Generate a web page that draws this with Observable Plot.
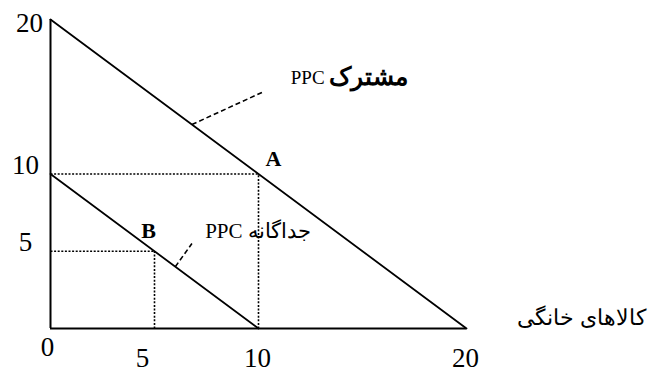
<!DOCTYPE html>
<html>
<head>
<meta charset="utf-8">
<script src="https://cdn.jsdelivr.net/npm/d3@7"></script>
<script src="https://cdn.jsdelivr.net/npm/@observablehq/plot@0.6"></script>
<style>
  html, body { margin: 0; padding: 0; background: #fff; }
  svg { display: block; }
</style>
</head>
<body>
<div id="chart"></div>
<script>
// ---- data ----
const jointX = [0, 20];          // joint PPC endpoints (x)
const jointY = [20, 0];          // joint PPC endpoints (y)
const sepX = [0, 10];            // separate PPC endpoints (x)
const sepY = [10, 0];            // separate PPC endpoints (y)
const pointNames = ["A", "B"];
const pointX = [10, 5];
const pointY = [10, 5];
const yTickValues = [20, 10, 5];
const xTickValues = [0, 5, 10, 20];
const jointLabel = ["PPC", "مشترک"];
const sepLabel = "PPC جداگانه";
const xTitle = "کالاهای خانگی";
// leader lines: [x on curve, y on curve, x end, y end]
const jointLeader = [6.8, 13.2, 10.2, 15.3];
const sepLeader = [6.0, 4.0, 6.8, 5.5];

const joint = jointX.map((x, i) => ({x, y: jointY[i]}));
const sep = sepX.map((x, i) => ({x, y: sepY[i]}));
const points = pointNames.map((n, i) => ({n, x: pointX[i], y: pointY[i]}));
const F = "Liberation Serif, Times New Roman, DejaVu Serif, serif";

const chart = Plot.plot({
  width: 652,
  height: 372,
  style: {background: "#fff", fontFamily: F},
  x: {domain: [0, 20], range: [50, 466]},
  y: {domain: [0, 20], range: [328, 19]},
  axis: null,
  marks: [
    // dotted guides
    Plot.link(points, {x1: 0, y1: "y", x2: "x", y2: "y", stroke: "#000", strokeWidth: 1.6, strokeDasharray: "2,1.6"}),
    Plot.link(points, {x1: "x", y1: 0, x2: "x", y2: "y", stroke: "#000", strokeWidth: 1.6, strokeDasharray: "2,1.6"}),
    // axes
    Plot.ruleX([0], {y1: 0, y2: 20, stroke: "#000", strokeWidth: 2}),
    Plot.ruleY([0], {x1: 0, x2: 20, stroke: "#000", strokeWidth: 2}),
    // PPC lines
    Plot.line(joint, {x: "x", y: "y", stroke: "#000", strokeWidth: 1.8}),
    Plot.line(sep, {x: "x", y: "y", stroke: "#000", strokeWidth: 1.8}),
    // leaders
    Plot.link([jointLeader, sepLeader], {x1: d => d[0], y1: d => d[1], x2: d => d[2], y2: d => d[3], stroke: "#000", strokeWidth: 1.6, strokeDasharray: "5,3"}),
    // y tick labels
    Plot.text(yTickValues.filter(v => v === 20), {x: 0, y: d => d, text: d => String(d), dx: -21, dy: 4, fontSize: 27, fontFamily: F, fill: "#000"}),
    Plot.text(yTickValues.filter(v => v !== 20), {x: 0, y: d => d, text: d => String(d), dx: -25, dy: -9, fontSize: 27, fontFamily: F, fill: "#000"}),
    // x tick labels
    Plot.text(xTickValues.filter(v => v === 0), {x: d => d, y: 0, text: d => String(d), dx: -3, dy: 19, fontSize: 27, fontFamily: F, fill: "#000"}),
    Plot.text(xTickValues.filter(v => v === 5), {x: d => d, y: 0, text: d => String(d), dx: -12, dy: 30, fontSize: 27, fontFamily: F, fill: "#000"}),
    Plot.text(xTickValues.filter(v => v >= 10), {x: d => d, y: 0, text: d => String(d), dx: -1, dy: 30, fontSize: 27, fontFamily: F, fill: "#000"}),
    // point labels
    Plot.text(points.filter(d => d.n === "A"), {x: "x", y: "y", text: "n", dx: 15, dy: -15, fontSize: 22, fontWeight: "bold", fontFamily: F, fill: "#000"}),
    Plot.text(points.filter(d => d.n === "B"), {x: "x", y: "y", text: "n", dx: -6, dy: -20, fontSize: 22, fontWeight: "bold", fontFamily: F, fill: "#000"}),
    // curve labels
    Plot.text([jointLabel[0]], {x: 10.2, y: 15.3, text: d => d, dx: 45, dy: -14, textAnchor: "middle", fontSize: 19, fontFamily: F, fill: "#000"}),
    Plot.text([jointLabel[1]], {x: 10.2, y: 15.3, text: d => d, dx: 66, dy: -15, textAnchor: "start", fontSize: 25, fontWeight: "bold", fontFamily: F, fill: "#000"}),
    Plot.text([sepLabel], {x: 6.8, y: 5.5, text: d => d, dx: 66, dy: -12, textAnchor: "middle", fontSize: 21, fontFamily: F, fill: "#000"}),
    // x title
    Plot.text([xTitle], {x: 20, y: 0, text: d => d, dx: 115, dy: -11, textAnchor: "middle", fontSize: 22, fontFamily: F, fill: "#000"})
  ]
});
document.getElementById("chart").appendChild(chart);
</script>
</body>
</html>
